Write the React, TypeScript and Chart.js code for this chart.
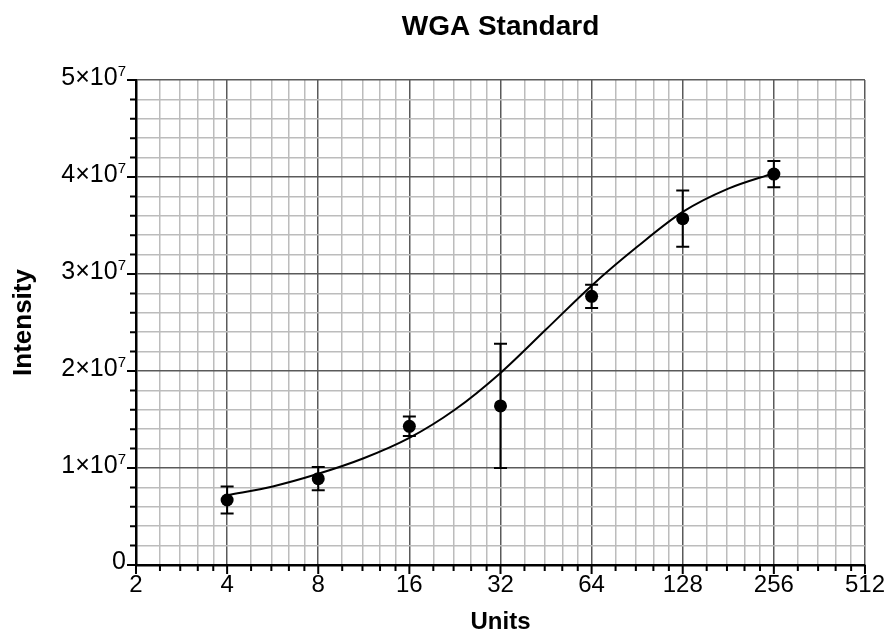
import React, { useEffect, useRef } from "react";
import { Chart, registerables } from "chart.js";

Chart.register(...registerables);

const units = [4, 8, 16, 32, 64, 128, 256];
const intensity = [6.7e6, 8.9e6, 1.43e7, 1.64e7, 2.77e7, 3.57e7, 4.03e7];
const errors = [1.4e6, 1.2e6, 1.0e6, 6.4e6, 1.2e6, 2.9e6, 1.35e6];

const curveUnits = [4, 5.66, 8, 11.3, 16, 22.6, 32, 45.3, 64, 90.5, 128, 181, 256];
const curveIntensity = [7.2e6, 8.1e6, 9.4e6, 1.1e7, 1.31e7, 1.6e7, 1.98e7, 2.43e7, 2.88e7, 3.28e7, 3.64e7, 3.88e7, 4.04e7];

const xMajorTicks = [2, 4, 8, 16, 32, 64, 128, 256, 512];
const xMinorFractions = [1.2, 1.4, 1.6, 1.8];
const yMax = 5e7;
const yMinorStep = 2e6;
const yMajorStep = 1e7;
const yExponent = "7";

const FONT = "'Liberation Sans', Arial, Helvetica, sans-serif";

const xTickValues: number[] = [];
xMajorTicks.forEach((m, i) => {
  xTickValues.push(m);
  if (i < xMajorTicks.length - 1) xMinorFractions.forEach((f) => xTickValues.push(m * f));
});

const isXMajor = (v: number) => xMajorTicks.some((m) => Math.abs(m - v) < 1e-9);
const isYMajor = (v: number) => Math.abs(v / yMajorStep - Math.round(v / yMajorStep)) < 1e-6;

const majorGrid = "#5a5a5a";
const minorGrid = "#bcbcbc";

const errorBarPlugin = {
  id: "errorBars",
  afterDatasetsDraw(chart: any) {
    const { ctx, scales } = chart;
    const xs = scales.x;
    const ys = scales.y;
    ctx.save();
    ctx.strokeStyle = "#000";
    ctx.lineWidth = 2;
    units.forEach((u, i) => {
      const px = xs.getPixelForValue(u);
      const top = ys.getPixelForValue(intensity[i] + errors[i]);
      const bot = ys.getPixelForValue(intensity[i] - errors[i]);
      ctx.beginPath();
      ctx.moveTo(px, top);
      ctx.lineTo(px, bot);
      ctx.moveTo(px - 6.5, top);
      ctx.lineTo(px + 6.5, top);
      ctx.moveTo(px - 6.5, bot);
      ctx.lineTo(px + 6.5, bot);
      ctx.stroke();
    });
    ctx.restore();
  },
};

const tickMarkPlugin = {
  id: "tickMarks",
  afterDraw(chart: any) {
    const { ctx, scales, chartArea } = chart;
    ctx.save();
    ctx.strokeStyle = "#000";
    ctx.lineWidth = 2;
    ctx.beginPath();
    scales.x.ticks.forEach((t: any) => {
      const px = scales.x.getPixelForValue(t.value);
      const len = isXMajor(t.value) ? 9 : 6;
      ctx.moveTo(px, chartArea.bottom);
      ctx.lineTo(px, chartArea.bottom + len);
    });
    scales.y.ticks.forEach((t: any) => {
      const py = scales.y.getPixelForValue(t.value);
      const len = isYMajor(t.value) ? 9 : 6;
      ctx.moveTo(chartArea.left, py);
      ctx.lineTo(chartArea.left - len, py);
    });
    ctx.stroke();

    // y labels with superscript exponent
    ctx.fillStyle = "#000";
    ctx.textAlign = "right";
    ctx.textBaseline = "alphabetic";
    const right = chartArea.left - 10;
    scales.y.ticks.forEach((t: any) => {
      const v = t.value;
      if (!isYMajor(v)) return;
      const py = scales.y.getPixelForValue(v);
      if (Math.abs(v) < 1) {
        ctx.font = `25px ${FONT}`;
        ctx.fillText("0", right, py + 4);
        return;
      }
      ctx.font = `15px ${FONT}`;
      const ew = ctx.measureText(yExponent).width;
      ctx.fillText(yExponent, right, py - 4);
      ctx.font = `25px ${FONT}`;
      ctx.fillText(`${Math.round(v / yMajorStep)}×10`, right - ew, py + 5);
    });
    ctx.restore();
  },
};

export default function App() {
  const ref = useRef<HTMLCanvasElement | null>(null);
  useEffect(() => {
    document.body.style.margin = "0";
    if (!ref.current) return;
    const chart = new Chart(ref.current, {
      type: "scatter",
      data: {
        datasets: [
          {
            label: "fit",
            data: curveUnits.map((u, i) => ({ x: u, y: curveIntensity[i] })),
            showLine: true,
            borderColor: "#000",
            borderWidth: 2,
            pointRadius: 0,
            cubicInterpolationMode: "monotone",
          } as any,
          {
            label: "data",
            data: units.map((u, i) => ({ x: u, y: intensity[i] })),
            showLine: false,
            pointRadius: 6.5,
            pointBackgroundColor: "#000",
            pointBorderColor: "#000",
            borderWidth: 0,
          },
        ],
      },
      options: {
        responsive: true,
        maintainAspectRatio: false,
        animation: false,
        layout: { padding: { left: 0, right: 21, top: 0, bottom: 0 } },
        plugins: {
          legend: { display: false },
          tooltip: { enabled: false },
          title: {
            display: true,
            fullSize: false,
            text: "WGA Standard",
            color: "#000",
            font: { family: FONT, size: 28, weight: "bold", lineHeight: 1.2 },
            padding: { top: 10, bottom: 36.4 },
          },
        },
        scales: {
          x: {
            type: "logarithmic",
            min: 2,
            max: 512,
            afterBuildTicks: (scale: any) => {
              scale.ticks = xTickValues.map((v) => ({ value: v }));
            },
            afterFit: (scale: any) => {
              scale.height = 69;
            },
            ticks: {
              autoSkip: false,
              maxRotation: 0,
              color: "#000",
              padding: 6,
              font: { family: FONT, size: 24 },
              callback: (v: any) => (isXMajor(Number(v)) ? String(v) : ""),
            },
            grid: {
              drawTicks: false,
              color: (c: any) => (c.tick && isXMajor(c.tick.value) ? majorGrid : minorGrid),
              lineWidth: 1.5,
            },
            border: { color: "#000", width: 2.5 },
            title: {
              display: true,
              text: "Units",
              color: "#000",
              font: { family: FONT, size: 24, weight: "bold", lineHeight: 1 },
              padding: { top: 0, bottom: 0 },
            },
          },
          y: {
            type: "linear",
            min: 0,
            max: yMax,
            afterFit: (scale: any) => {
              scale.width = 136;
            },
            ticks: {
              stepSize: yMinorStep,
              autoSkip: false,
              color: "#000",
              padding: 11,
              font: { family: FONT, size: 24 },
              callback: () => "",
            },
            grid: {
              drawTicks: false,
              color: (c: any) => (c.tick && isYMajor(c.tick.value) ? majorGrid : minorGrid),
              lineWidth: 1.5,
            },
            border: { color: "#000", width: 2.5 },
            title: {
              display: true,
              text: "Intensity",
              color: "#000",
              font: { family: FONT, size: 26, weight: "bold", lineHeight: 1.2 },
              padding: { top: 8, bottom: 0 },
            },
          },
        },
      },
      plugins: [errorBarPlugin, tickMarkPlugin],
    });
    return () => chart.destroy();
  }, []);
  return (
    <div style={{ width: 891, height: 634, position: "relative" }}>
      <canvas ref={ref} />
    </div>
  );
}
